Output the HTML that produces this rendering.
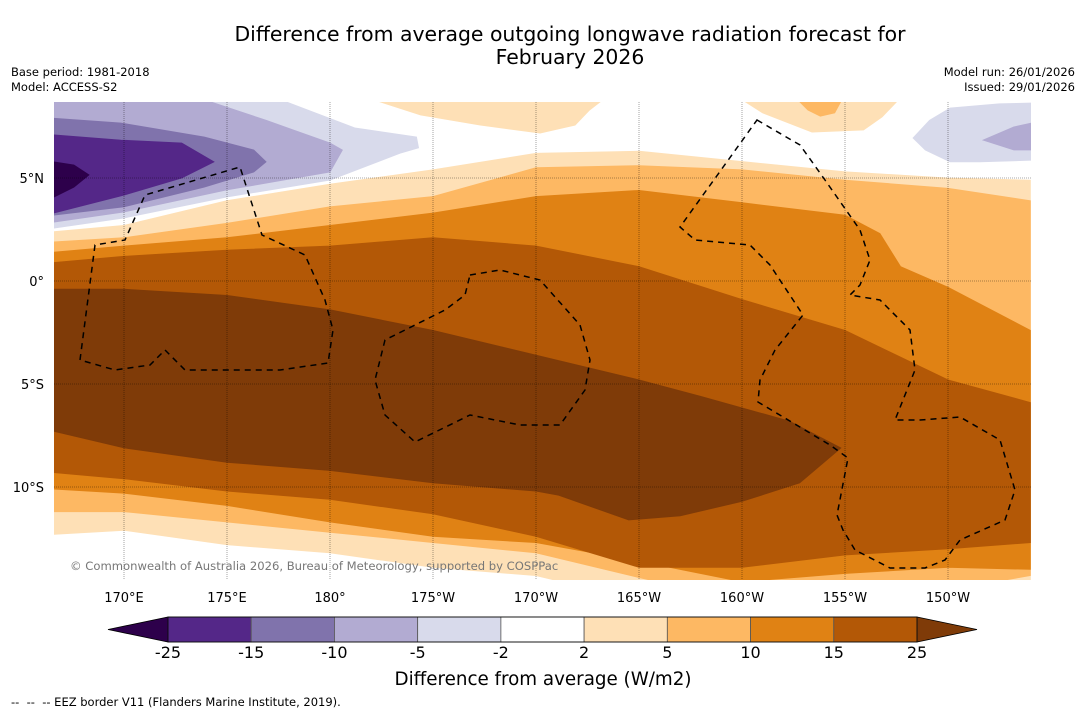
<!DOCTYPE html>
<html><head><meta charset="utf-8"><style>
html,body{margin:0;padding:0;background:#fff;width:1085px;height:713px;overflow:hidden;font-family:"Liberation Sans","DejaVu Sans",sans-serif}
svg text{font-family:"DejaVu Sans","Liberation Sans",sans-serif}
</style></head><body>
<svg id="chart" width="1085" height="713" viewBox="0 0 1085 713" xmlns="http://www.w3.org/2000/svg">
<defs><clipPath id="mapclip"><rect x="54" y="102" width="977" height="478"/></clipPath></defs>
<text x="570" y="41" font-size="20.4" text-anchor="middle">Difference from average outgoing longwave radiation forecast for</text>
<text x="570" y="64" font-size="20.4" text-anchor="middle">February 2026</text>
<text x="11" y="76" font-size="11.5">Base period: 1981-2018</text>
<text x="11" y="91" font-size="11.5">Model: ACCESS-S2</text>
<text x="1075" y="76" font-size="11.5" text-anchor="end">Model run: 26/01/2026</text>
<text x="1075" y="91" font-size="11.5" text-anchor="end">Issued: 29/01/2026</text>
<g id="map" clip-path="url(#mapclip)">
<rect x="54" y="102" width="977" height="478" fill="#ffffff"/>
<g id="bands"></g>
<g id="grid"></g>
<g fill="none" stroke="#000" stroke-width="1.5" stroke-dasharray="6,5">
<path d="M80,360 L95,245 L125,240 L145,195 L240,167 L262,235 L305,255 L325,300 L333,330 L328,363 L280,370 L185,370 L165,350 L150,365 L115,370 Z"/>
<path d="M470,275 L500,270 L540,280 L580,325 L590,360 L585,390 L560,425 L520,425 L470,415 L415,442 L385,415 L375,380 L385,340 L445,310 L465,295 Z"/>
<path d="M757,120 L800,145 L825,180 L860,230 L870,260 L860,285 L850,295 L880,300 L910,330 L915,370 L895,420 L920,420 L960,417 L1000,440 L1015,490 L1005,520 L960,540 L945,560 L925,568 L890,568 L855,550 L843,530 L837,515 L848,458 L830,445 L758,402 L760,380 L775,350 L803,315 L770,265 L750,245 L695,240 L680,227 Z"/>
</g>
<text x="70" y="570" font-size="11.6" fill="#777">© Commonwealth of Australia 2026, Bureau of Meteorology, supported by COSPPac</text>
</g>
<g id="axes"></g>
<g id="colorbar"></g>
<text x="543" y="685" font-size="18.3" text-anchor="middle">Difference from average (W/m2)</text>
<text x="11" y="706" font-size="11.5" xml:space="preserve">--  --  -- EEZ border V11 (Flanders Marine Institute, 2019).</text>
</svg>
<script>
// ---- data (lon in degrees east, lat in degrees) ----
const LON = [166.6,170,175,180,185,190,195,200,205,210,214];
const p2N = [2.4,2.7,3.9,4.7,5.4,6.2,6.3,5.8,5.3,5.0,4.9];
const p2S = [-12.3,-12.1,-12.8,-13.2,-13.9,-14.3,-15.5,-15.5,-15.5,-15.5,-15.5];
const p5N = [1.9,2.1,2.8,3.6,4.1,5.5,5.6,5.4,4.9,4.5,3.9];
const p5S = [-11.2,-11.2,-11.7,-12.2,-12.7,-13.2,-14.4,-15.5,-15.5,-15.0,-14.3];
const LON10N = [166.6,170,175,180,185,190,195,200,205,206.7,207.7,210,214];
const p10N = [1.4,1.7,2.1,2.7,3.3,4.1,4.4,3.8,3.2,2.3,0.7,-0.3,-2.4];
const p10S = [-10.1,-10.3,-10.9,-11.7,-12.4,-12.7,-13.6,-14.6,-14.2,-13.9,-14.0];
const p15N = [0.9,1.2,1.5,1.7,2.1,1.7,0.7,-0.9,-2.4,-4.8,-5.9];
const p15S = [-9.3,-9.6,-10.2,-10.6,-11.3,-12.4,-13.9,-13.9,-13.3,-13.0,-12.7];
const p25Lon = [166.6,170,175,180,185,190,195,198,202.3,204.8,202.8,200,197,194.5,191.1,190,185,180,175,170,166.6];
const p25Lat = [-0.4,-0.4,-0.7,-1.4,-2.4,-3.6,-4.8,-5.6,-6.8,-8.1,-9.8,-10.7,-11.4,-11.6,-10.4,-10.2,-9.8,-9.2,-8.8,-8.1,-7.3];
const blobALon = [182.1,184.4,187.3,190.2,191.9,192.6,193.25];
const blobALat = [8.8,8.06,7.57,7.18,7.57,8.3,8.8];
const blobBLon = [200,201,203.4,205.9,206.8,207.6];
const blobBLat = [8.8,8.16,7.23,7.33,7.96,8.8];
const blobB5Lon = [202.7,203.2,203.8,204.5,204.85];
const blobB5Lat = [8.8,8.3,8.0,8.16,8.8];
const m2Lon = [166.6,170,175,180,183.4,184.3,184.2,181.2,177.6,166.6];
const m2Lat = [2.57,3.06,4.08,4.9,6.2,6.46,6.99,7.43,8.8,8.8];
const m5Lon = [166.6,170,175,180,180.6,180,176.9,173.9,166.6];
const m5Lat = [2.86,3.35,4.42,5.29,6.36,6.7,7.8,8.8,8.8];
const m10Lon = [166.6,169.85,173.9,176.3,176.9,176.3,173.9,170,166.6];
const m10Lat = [7.9,7.67,6.99,6.36,5.78,5.29,4.56,3.6,3.2];
const m15Lon = [166.6,169.85,172.8,174.37,172.8,170,166.6];
const m15Lat = [7.09,6.84,6.7,5.78,5.0,4.17,3.3];
const m25Lon = [166.6,167.57,168.3,167.57,166.6];
const m25Lat = [5.78,5.63,5.15,4.56,4.08];
const mR2Lon = [208.3,209.1,210.1,212.5,214.2,214.2,211.55,210.1,208.9];
const mR2Lat = [6.94,7.8,8.4,8.6,8.64,5.87,5.78,5.78,6.36];
const mR5Lon = [211.7,213.2,214.2,214.2,213.2];
const mR5Lat = [6.84,7.48,7.7,6.36,6.36];
const lonTicks = [170,175,180,185,190,195,200,205,210];
const lonTickLabels = ["170°E","175°E","180°","175°W","170°W","165°W","160°W","155°W","150°W"];
const latTicks = [5,0,-5,-10];
const latTickLabels = ["5°N","0°","5°S","10°S"];
const cbLevels = ["-25","-15","-10","-5","-2","2","5","10","15","25"];
const cbColors = ["#542788","#8073ac","#b2abd2","#d8daeb","#ffffff","#fee0b6","#fdb863","#e08214","#b35806"];
const cbUnder = "#2d004b";
const cbOver = "#7f3b08";

// ---- axis functions ----
const X = lon => 124 + (lon - 170) * 20.6;
const Y = lat => 281 - lat * 20.6;
const NS = "http://www.w3.org/2000/svg";
function pts(lons, lats){ return lons.map((l,i)=>X(l).toFixed(1)+","+Y(lats[i]).toFixed(1)); }
const bands = document.getElementById('bands');
function poly(points, fill, name){
  const p = document.createElementNS(NS,'polygon');
  p.setAttribute('points', points.join(' '));
  p.setAttribute('fill', fill);
  p.setAttribute('stroke', fill);
  p.setAttribute('stroke-width', '0.8');
  
  
  bands.appendChild(p);
}
function band(nLon, nLat, sLon, sLat, fill, name){
  const a = pts(nLon, nLat), b = pts(sLon, sLat).reverse();
  poly(a.concat(b), fill, name);
}
band(LON,p2N,LON,p2S,"#fee0b6","band-2-to-5");
band(LON,p5N,LON,p5S,"#fdb863","band-5-to-10");
band(LON10N,p10N,LON,p10S,"#e08214","band-10-to-15");
band(LON,p15N,LON,p15S,"#b35806","band-15-to-25");
poly(pts(p25Lon,p25Lat),"#7f3b08","band-above-25");
poly(pts(blobALon,blobALat),"#fee0b6","blob-north-2-to-5-a");
poly(pts(blobBLon,blobBLat),"#fee0b6","blob-north-2-to-5-b");
poly(pts(blobB5Lon,blobB5Lat),"#fdb863","blob-north-5-to-10");
poly(pts(m2Lon,m2Lat),"#d8daeb","band-minus-2-to-minus-5");
poly(pts(m5Lon,m5Lat),"#b2abd2","band-minus-5-to-minus-10");
poly(pts(m10Lon,m10Lat),"#8073ac","band-minus-10-to-minus-15");
poly(pts(m15Lon,m15Lat),"#542788","band-minus-15-to-minus-25");
poly(pts(m25Lon,m25Lat),"#2d004b","band-below-minus-25");
poly(pts(mR2Lon,mR2Lat),"#d8daeb","blob-east-minus-2");
poly(pts(mR5Lon,mR5Lat),"#b2abd2","blob-east-minus-5");

// grid + ticks
const grid = document.getElementById('grid'), axes = document.getElementById('axes');
lonTicks.forEach((lon,i)=>{
  const l = document.createElementNS(NS,'line');
  l.setAttribute('x1',X(lon)); l.setAttribute('x2',X(lon)); l.setAttribute('y1',102); l.setAttribute('y2',580);
  l.setAttribute('stroke','rgba(0,0,0,0.45)'); l.setAttribute('stroke-width','0.8'); l.setAttribute('stroke-dasharray','1,1');
  
  
  grid.appendChild(l);
  const t = document.createElementNS(NS,'text');
  t.setAttribute('x',X(lon)); t.setAttribute('y',602); t.setAttribute('font-size','13'); t.setAttribute('text-anchor','middle');
  t.textContent = lonTickLabels[i];
  
  
  axes.appendChild(t);
});
latTicks.forEach((lat,i)=>{
  const l = document.createElementNS(NS,'line');
  l.setAttribute('x1',54); l.setAttribute('x2',1031); l.setAttribute('y1',Y(lat)); l.setAttribute('y2',Y(lat));
  l.setAttribute('stroke','rgba(0,0,0,0.45)'); l.setAttribute('stroke-width','0.8'); l.setAttribute('stroke-dasharray','1,1');
  
  
  grid.appendChild(l);
  const t = document.createElementNS(NS,'text');
  t.setAttribute('x',44); t.setAttribute('y',Y(lat)+5); t.setAttribute('font-size','13'); t.setAttribute('text-anchor','end');
  t.textContent = latTickLabels[i];
  
  
  axes.appendChild(t);
});

// colorbar
const cb = document.getElementById('colorbar');
const cbX0 = 168, cbX1 = 917, cbY = 617, cbH = 25;
const cbW = (cbX1 - cbX0) / cbColors.length;
const tl = document.createElementNS(NS,'polygon');
tl.setAttribute('points', `${cbX0},${cbY} ${cbX0},${cbY+cbH} 108,${cbY+cbH/2}`);
tl.setAttribute('fill', cbUnder); tl.setAttribute('stroke','#000'); tl.setAttribute('stroke-width','0.8');


cb.appendChild(tl);
const tr = document.createElementNS(NS,'polygon');
tr.setAttribute('points', `${cbX1},${cbY} ${cbX1},${cbY+cbH} 977,${cbY+cbH/2}`);
tr.setAttribute('fill', cbOver); tr.setAttribute('stroke','#000'); tr.setAttribute('stroke-width','0.8');


cb.appendChild(tr);
cbColors.forEach((c,i)=>{
  const r = document.createElementNS(NS,'rect');
  r.setAttribute('x', cbX0 + i*cbW); r.setAttribute('y', cbY); r.setAttribute('width', cbW); r.setAttribute('height', cbH);
  r.setAttribute('fill', c); r.setAttribute('stroke','#555'); r.setAttribute('stroke-width','0.8');
  
  
  cb.appendChild(r);
});
const frame = document.createElementNS(NS,'rect');
frame.setAttribute('x',cbX0); frame.setAttribute('y',cbY); frame.setAttribute('width',cbX1-cbX0); frame.setAttribute('height',cbH);
frame.setAttribute('fill','none'); frame.setAttribute('stroke','#000'); frame.setAttribute('stroke-width','0.8');


cb.appendChild(frame);
cbLevels.forEach((lv,i)=>{
  const t = document.createElementNS(NS,'text');
  t.setAttribute('x', cbX0 + i*cbW); t.setAttribute('y', 658); t.setAttribute('font-size','16'); t.setAttribute('text-anchor','middle');
  t.textContent = lv;
  
  
  cb.appendChild(t);
});
</script>
</body></html>
